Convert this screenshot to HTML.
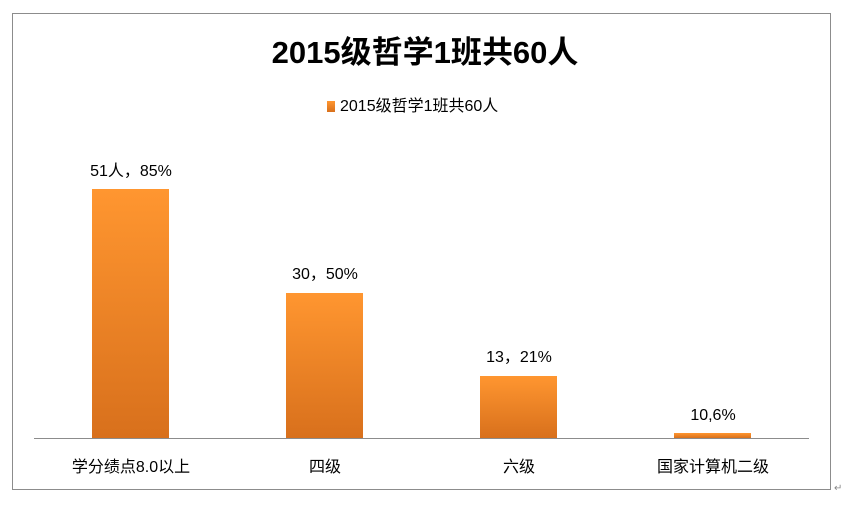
<!DOCTYPE html>
<html><head><meta charset="utf-8"><style>
body{margin:0;background:#fff;width:850px;height:501px;overflow:hidden;font-family:"Liberation Sans","Noto Sans CJK SC",sans-serif;}
</style></head><body>
<svg width="850" height="501" xmlns="http://www.w3.org/2000/svg" style="font-family:'Liberation Sans','Noto Sans CJK SC',sans-serif">
<defs><linearGradient id="g" x1="0" y1="0" x2="0" y2="1"><stop offset="0" stop-color="#ff9630"/><stop offset="1" stop-color="#d8701c"/></linearGradient></defs>
<rect x="12.5" y="13.5" width="818" height="476" fill="#fff" stroke="#8c8c8c"/>
<text x="425" y="63" text-anchor="middle" font-size="31" font-weight="bold">2015级哲学1班共60人</text>
<rect x="327" y="101" width="8" height="11" fill="url(#g)"/>
<text x="340" y="111" font-size="16">2015级哲学1班共60人</text>
<line x1="34" y1="438.5" x2="809" y2="438.5" stroke="#8c8c8c"/>
<g fill="url(#g)">
<rect x="92" y="189" width="77" height="249"/>
<rect x="286" y="293" width="77" height="145"/>
<rect x="480" y="376" width="77" height="62"/>
<rect x="674" y="433" width="77" height="5"/>
</g>
<g font-size="16" text-anchor="middle">
<text x="131" y="176">51人，85%</text>
<text x="325" y="279">30，50%</text>
<text x="519" y="362">13，21%</text>
<text x="713" y="420">10,6%</text>
<text x="131" y="472">学分绩点8.0以上</text>
<text x="325" y="472">四级</text>
<text x="519" y="472">六级</text>
<text x="713" y="472">国家计算机二级</text>
</g>
<text x="834" y="491" font-size="10" fill="#888">↵</text>
</svg>
</body></html>
